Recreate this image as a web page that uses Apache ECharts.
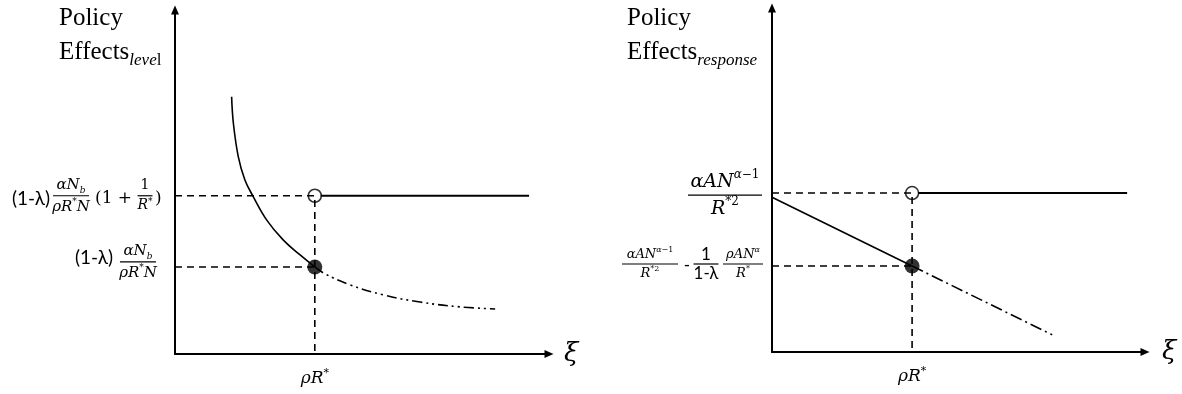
<!DOCTYPE html>
<html>
<head>
<meta charset="utf-8">
<script src="https://cdn.jsdelivr.net/npm/echarts@6/dist/echarts.min.js"></script>
<style>
  html, body { margin: 0; padding: 0; background: #fff; }
  #chart { width: 1182px; height: 394px; }
</style>
</head>
<body>
<div id="chart"></div>
<script>
// ---- values (axis units) ----
const rhoStar = 4;

// left panel: level effects
const levelHigh = 4.6;
const levelLow = 2.53;
const levelSolid = [[1.62, 7.48], [1.67, 6.71], [1.81, 5.74], [2.00, 5.06], [2.23, 4.59],
                    [2.62, 3.90], [3.10, 3.31], [3.58, 2.88], [4.00, 2.53]];
const levelDashDot = [[4.00, 2.53], [4.29, 2.33], [5.01, 2.01], [5.95, 1.72], [7.01, 1.51],
                      [8.15, 1.37], [9.16, 1.31]];
const levelFlat = [[4.17, 4.6], [10.13, 4.6]];

// right panel: response effects
const respHigh = 4.62;
const respLow = 2.5;
const respSolid = [[0, 4.5], [4, 2.5]];
const respDashDot = [[4, 2.5], [8, 0.5]];
const respFlat = [[4.17, 4.62], [10.14, 4.62]];

// ---- text ----
const panelTitles = ['Policy\nEffects{sub|leve}{subu|l}', 'Policy\nEffects{sub|response}'];
const xTickLabels = ['{m|ρR}{sp|*}', '{m|ρR}{sp|*}'];
const xAxisNames = ['ξ', 'ξ'];

const SERIF = '"Liberation Serif", "Times New Roman", serif';
const MATH = '"DejaVu Serif", "Liberation Serif", serif';
const SANS = 'Lato, "Open Sans", sans-serif';

function mathRich(size, sansSize) {
  const s2 = Math.round(size * 0.62);
  const lh = Math.round(size * 1.3);
  const base = { fill: '#000', color: '#000' };
  return {
    m:   Object.assign({ fontFamily: MATH, fontStyle: 'italic', fontSize: size, lineHeight: lh }, base),
    u:   Object.assign({ fontFamily: MATH, fontSize: size, lineHeight: lh }, base),
    s:   Object.assign({ fontFamily: SANS, fontSize: sansSize || size, lineHeight: lh }, base),
    sb:  Object.assign({ fontFamily: MATH, fontStyle: 'italic', fontSize: s2, lineHeight: s2, verticalAlign: 'bottom' }, base),
    sp:  Object.assign({ fontFamily: MATH, fontStyle: 'italic', fontSize: s2, lineHeight: s2, verticalAlign: 'top' }, base),
    spu: Object.assign({ fontFamily: MATH, fontSize: s2, lineHeight: s2, verticalAlign: 'top' }, base)
  };
}

function txt(x, y, text, rich, align, va) {
  return { type: 'text', x: x, y: y,
    style: { text: text, rich: rich, align: align || 'center', verticalAlign: va || 'middle', fill: '#000' } };
}
function frac(cx, cy, num, den, w, rich) {
  return [
    txt(cx, cy - 1, num, rich, 'center', 'bottom'),
    { type: 'line', shape: { x1: cx - w / 2, y1: cy, x2: cx + w / 2, y2: cy },
      style: { stroke: '#000', lineWidth: 1.2 } },
    txt(cx, cy + 1, den, rich, 'center', 'top')
  ];
}

const r15 = mathRich(15, 19);
const r14 = mathRich(14, 19);
const r19 = mathRich(19);
const r13 = mathRich(13, 17);

// y-axis formula labels, each anchored at (axis, level)
const levelLabelBuilders = [
  (x, y) => [].concat(
    txt(x - 125, y + 3, '{s|(1-λ)}', r15, 'right'),
    frac(x - 104, y, '{m|αN}{sb|b}', '{m|ρR}{sp|*}{m|N}', 36, r15),
    txt(x - 80, y + 3, '{u|(1 + }', mathRich(17), 'left'),
    frac(x - 30, y, '{u|1}', '{m|R}{sp|*}', 15, r14),
    txt(x - 20, y + 3, '{u|)}', mathRich(17), 'left')
  ),
  (x, y) => [].concat(
    txt(x - 62, y - 9, '{s|(1-λ)}', r15, 'right'),
    frac(x - 37, y - 5, '{m|αN}{sb|b}', '{m|ρR}{sp|*}{m|N}', 36, r15)
  )
];
const respLabelBuilders = [
  (x, y) => frac(x - 47, y + 2, '{m|αAN}{sp|α}{spu|−1}', '{m|R}{spu|*2}', 74, r19),
  (x, y) => [].concat(
    frac(x - 122, y - 2, '{m|αAN}{sp|α}{spu|−1}', '{m|R}{spu|*2}', 56, r13),
    txt(x - 85, y, '{s|-}', r13),
    frac(x - 66, y - 2, '{s|1}', '{s|1-λ}', 25, r13),
    frac(x - 29, y - 2, '{m|ρAN}{sp|α}', '{m|R}{spu|*}', 40, r13)
  )
];

function labelSeries(idx, levels, builders) {
  return {
    type: 'custom', xAxisIndex: idx, yAxisIndex: idx, silent: true, clip: false, z: 10,
    data: levels.map(v => [0, v]),
    renderItem: function (params, api) {
      const p = api.coord([api.value(0), api.value(1)]);
      return { type: 'group', children: builders[params.dataIndex](p[0], p[1]) };
    }
  };
}

function line(idx, data, type, width, smooth) {
  return { type: 'line', xAxisIndex: idx, yAxisIndex: idx, data: data, showSymbol: false,
    smooth: smooth ? 0.4 : false, silent: true,
    lineStyle: { color: '#000', width: width, type: type } };
}
function dot(idx, pt, hollow) {
  return { type: 'scatter', xAxisIndex: idx, yAxisIndex: idx, data: [pt], silent: true, z: 5,
    symbolSize: hollow ? 13 : 15,
    itemStyle: hollow ? { color: 'rgba(0,0,0,0)', borderColor: '#000', borderWidth: 1.6 } : { color: '#000' } };
}

function xAxis(idx, gridIdx, max, gap) {
  return {
    type: 'value', gridIndex: gridIdx, min: 0, max: max,
    name: xAxisNames[idx], nameLocation: 'end', nameGap: gap,
    nameTextStyle: { fontFamily: MATH, fontStyle: 'italic', fontSize: 26, color: '#000', padding: [6, 0, 0, 0] },
    axisLine: { show: true, symbol: ['none', 'triangle'], symbolSize: [8, 9], lineStyle: { color: '#000', width: 2 } },
    axisTick: { show: false }, splitLine: { show: false },
    axisLabel: { customValues: [rhoStar], margin: 14, formatter: () => xTickLabels[idx], rich: mathRich(17) }
  };
}
function yAxis(gridIdx) {
  return {
    type: 'value', gridIndex: gridIdx, min: 0, max: 10,
    axisLine: { show: true, symbol: ['none', 'triangle'], symbolSize: [8, 9], lineStyle: { color: '#000', width: 2 } },
    axisTick: { show: false }, splitLine: { show: false }, axisLabel: { show: false }
  };
}

const titleRich = {
  sub:  { fontFamily: SERIF, fontStyle: 'italic', fontSize: 17, lineHeight: 17, verticalAlign: 'bottom', color: '#000' },
  subu: { fontFamily: SERIF, fontSize: 17, lineHeight: 17, verticalAlign: 'bottom', color: '#000' }
};
function title(i, left) {
  return { text: panelTitles[i], left: left, top: 1, padding: 0,
    textStyle: { fontFamily: SERIF, fontSize: 25, fontWeight: 'normal', lineHeight: 34, color: '#000', rich: titleRich } };
}

const chart = echarts.init(document.getElementById('chart'), null, { renderer: 'canvas' });
chart.setOption({
  backgroundColor: '#fff',
  animation: false,
  title: [title(0, 59), title(1, 627)],
  grid: [
    { left: 175, top: 10, width: 374, height: 344, containLabel: false },
    { left: 772, top: 8, width: 373, height: 344, containLabel: false }
  ],
  xAxis: [xAxis(0, 0, 10.7, 15), xAxis(1, 1, 10.65, 17)],
  yAxis: [yAxis(0), yAxis(1)],
  series: [
    // left panel
    line(0, [[0, levelHigh], [rhoStar, levelHigh], [rhoStar, 0]], [7, 5], 1.6),
    line(0, [[0, levelLow], [rhoStar, levelLow]], [7, 5], 1.6),
    line(0, levelSolid, 'solid', 1.6, true),
    line(0, levelDashDot, [10, 4, 2, 4, 2, 4], 1.6, true),
    line(0, levelFlat, 'solid', 2),
    dot(0, [rhoStar, levelHigh], true),
    dot(0, [rhoStar, levelLow], false),
    labelSeries(0, [levelHigh, levelLow], levelLabelBuilders),
    // right panel
    line(1, [[0, respHigh], [rhoStar, respHigh], [rhoStar, 0]], [7, 5], 1.6),
    line(1, [[0, respLow], [rhoStar, respLow]], [7, 5], 1.6),
    line(1, respSolid, 'solid', 1.6),
    line(1, respDashDot, [12, 4, 2, 4], 1.6),
    line(1, respFlat, 'solid', 2),
    dot(1, [rhoStar, respHigh], true),
    dot(1, [rhoStar, respLow], false),
    labelSeries(1, [respHigh, respLow], respLabelBuilders)
  ]
});
</script>
</body>
</html>
